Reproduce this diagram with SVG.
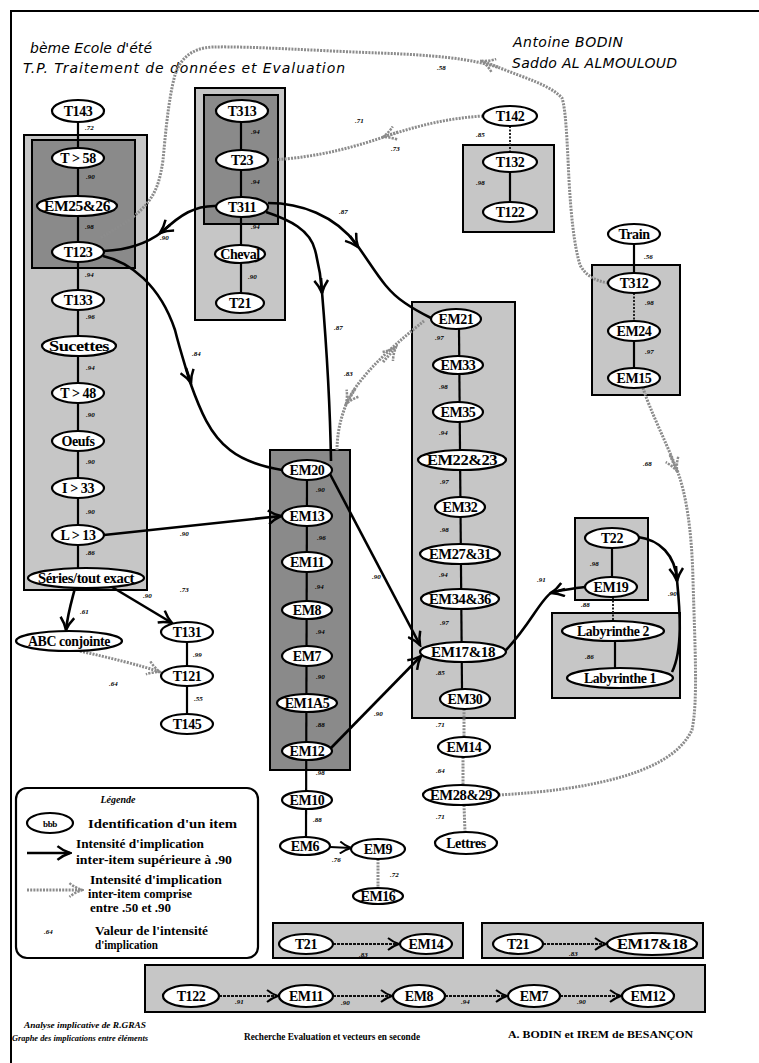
<svg xmlns="http://www.w3.org/2000/svg" width="759" height="1063" viewBox="0 0 759 1063">
<style>
.lt{fill:#c6c6c6;stroke:#000;stroke-width:2}
.dk{fill:#8a8a8a;stroke:#000;stroke-width:2}
.nd ellipse{fill:#fff;stroke:#000;stroke-width:2.2}
.nd text{font-family:"Liberation Serif","Times New Roman",serif;font-weight:bold;font-size:14px;text-anchor:middle;letter-spacing:-0.4px}
.c{fill:none;stroke:#000;stroke-width:2.6}
.v{fill:none;stroke:#000;stroke-width:2.2}
.vd{fill:none;stroke:#222;stroke-width:2;stroke-dasharray:2 1.5}
.g{fill:none;stroke:#8c8c8c;stroke-width:3;stroke-dasharray:2 1.2}
.bd{fill:none;stroke:#111;stroke-width:2;stroke-dasharray:3 1}
.lb{font-family:"Liberation Serif","Times New Roman",serif;font-style:italic;font-weight:bold;font-size:7px;fill:#000}
.tt{font-family:"DejaVu Sans",sans-serif;font-style:italic;font-size:14px;fill:#000}
.lg{font-family:"Liberation Serif","Times New Roman",serif;font-weight:bold;font-size:13px;fill:#000}
.ft{font-family:"Liberation Serif","Times New Roman",serif;font-weight:bold;font-style:italic;font-size:9px;fill:#000}
.fb{font-family:"Liberation Serif","Times New Roman",serif;font-weight:bold;font-size:10px;fill:#000}
</style>
<defs>
<marker id="ah" viewBox="0 0 14 14" refX="12" refY="7" markerWidth="16" markerHeight="16" markerUnits="userSpaceOnUse" orient="auto"><path d="M1,1 Q6,5 12,7 Q6,9 1,13" fill="none" stroke="#000" stroke-width="2.2"/></marker>
<marker id="ahg" viewBox="0 0 14 14" refX="12" refY="7" markerWidth="16" markerHeight="16" markerUnits="userSpaceOnUse" orient="auto"><path d="M1,1 Q6,5 12,7 Q6,9 1,13" fill="none" stroke="#8c8c8c" stroke-width="2.2" stroke-dasharray="2 1"/></marker>
<marker id="ahs" viewBox="0 0 14 14" refX="12" refY="7" markerWidth="14" markerHeight="14" markerUnits="userSpaceOnUse" orient="auto"><path d="M1,1 Q6,5 12,7 Q6,9 1,13" fill="none" stroke="#000" stroke-width="2"/></marker>
</defs>
<rect x="0" y="0" width="759" height="1063" fill="#fff"/>
<g id="frame"><path d="M11,1063 L11,11 L759,11" fill="none" stroke="#000" stroke-width="2"/></g>
<g id="titles">
<text class="tt" x="30" y="53" textLength="122" lengthAdjust="spacing">bème Ecole d'été</text>
<text class="tt" x="23" y="73" textLength="322" lengthAdjust="spacing">T.P. Traitement de données et Evaluation</text>
<text class="tt" x="513" y="47" textLength="110" lengthAdjust="spacing">Antoine BODIN</text>
<text class="tt" x="512" y="68" textLength="165" lengthAdjust="spacing">Saddo AL ALMOULOUD</text>
</g>
<g id="clusters">
<rect class="lt" x="24" y="135" width="123" height="455"/>
<rect class="dk" x="32" y="140" width="103" height="128"/>
<rect class="lt" x="195" y="88" width="90" height="232"/>
<rect class="dk" x="204" y="95" width="74" height="129"/>
<rect class="lt" x="463" y="145" width="91" height="87"/>
<rect class="lt" x="592" y="265" width="88" height="130"/>
<rect class="lt" x="412" y="302" width="103" height="416"/>
<rect class="dk" x="270" y="450" width="80" height="320"/>
<rect class="lt" x="575" y="518" width="73" height="82"/>
<rect class="lt" x="552" y="613" width="128" height="85"/>
<rect class="lt" x="273" y="923" width="190" height="35"/>
<rect class="lt" x="482" y="923" width="221" height="35"/>
<rect class="lt" x="145" y="965" width="560" height="47"/>
</g>
<g id="legend">
<rect x="16" y="788" width="242" height="170" rx="11" fill="#fff" stroke="#000" stroke-width="2.2"/>
<text x="118" y="803" class="ft" style="font-size:10px" text-anchor="middle">Légende</text>
<g class="nd" id="n-legend"><ellipse cx="50" cy="823" rx="23" ry="10"/><text x="50" y="827" style="font-size:9px">bbb</text></g>
<text class="lg" x="88" y="828" textLength="149" lengthAdjust="spacingAndGlyphs">Identification d'un item</text>
<path class="c" d="M27,853 L70,853" marker-end="url(#ah)"/>
<text class="lg" x="76" y="848" textLength="128" lengthAdjust="spacingAndGlyphs">Intensité d'implication</text>
<text class="lg" x="76" y="864" textLength="156" lengthAdjust="spacingAndGlyphs">inter-item supérieure à .90</text>
<path class="g" d="M27,890 L82,890" marker-end="url(#ahg)"/>
<text class="lg" x="90" y="884" textLength="132" lengthAdjust="spacingAndGlyphs">Intensité d'implication</text>
<text class="lg" x="88" y="898" textLength="104" lengthAdjust="spacingAndGlyphs">inter-item comprise</text>
<text class="lg" x="90" y="912" textLength="81" lengthAdjust="spacingAndGlyphs">entre .50 et .90</text>
<text class="lb" x="44" y="934">.64</text>
<text class="lg" x="95" y="935" textLength="113" lengthAdjust="spacingAndGlyphs">Valeur de l'intensité</text>
<text class="lg" x="95" y="949" textLength="63" lengthAdjust="spacingAndGlyphs">d'implication</text>
</g>
<g id="connectors">
<line class="v" x1="78" y1="122" x2="78" y2="568"/>
<line class="v" x1="241" y1="122" x2="241" y2="293"/>
<line class="vd" x1="510" y1="126" x2="510" y2="152"/>
<line class="v" x1="510" y1="172" x2="510" y2="202"/>
<line class="v" x1="634" y1="244" x2="634" y2="273"/>
<line class="vd" x1="634" y1="293" x2="634" y2="321"/>
<line class="v" x1="634" y1="341" x2="634" y2="368"/>
<line class="v" x1="459" y1="329" x2="462" y2="689"/>
<line class="g" x1="464" y1="709" x2="464" y2="737"/>
<line class="g" x1="463" y1="757" x2="463" y2="785"/>
<line class="g" x1="464" y1="805" x2="465" y2="832"/>
<line class="v" x1="307" y1="480" x2="306" y2="837"/>
<line class="g" x1="378" y1="859" x2="378" y2="888"/>
<line class="v" x1="187" y1="642" x2="187" y2="714"/>
<line class="v" x1="612" y1="548" x2="612" y2="577"/>
<line class="vd" x1="613" y1="597" x2="613" y2="621"/>
<line class="v" x1="615" y1="641" x2="615" y2="668"/>
<path class="c" d="M217,206 C195,205 180,215 162,232 C145,245 125,250 104,251"/>
<path class="c" d="M170,225 L160,233" marker-end="url(#ah)"/>
<path class="c" d="M268,203 C300,203 335,215 357,245 C375,270 385,290 405,303 C415,310 425,315 431,318"/>
<path class="c" d="M350,236 L358,247" marker-end="url(#ah)"/>
<path class="c" d="M266,212 C290,220 310,230 315,250 C319,265 321,278 322,292 C326,340 330,400 331,461"/>
<path class="c" d="M321,278 L322,293" marker-end="url(#ah)"/>
<path class="c" d="M103,256 C130,262 160,285 175,330 C180,350 185,365 190,382 C200,410 210,435 230,450 C245,462 265,467 282,470"/>
<path class="c" d="M186,368 L191,383" marker-end="url(#ah)"/>
<path class="c" d="M104,535 L281,516" marker-end="url(#ah)"/>
<path class="c" d="M330,474 L420,645" marker-end="url(#ah)"/>
<path class="c" d="M331,748 L421,656" marker-end="url(#ah)"/>
<path class="c" d="M585,587 C575,588 565,590 552,592 C540,600 530,625 506,650"/>
<path class="c" d="M565,589 L551,593" marker-end="url(#ah)"/>
<path class="c" d="M638,537 C660,540 675,555 677,580 C680,610 683,650 672,672"/>
<path class="c" d="M676,566 L677,581" marker-end="url(#ah)"/>
<path class="c" d="M75,588 C72,600 68,612 66,630" marker-end="url(#ah)"/>
<path class="c" d="M112,587 L172,623" marker-end="url(#ah)"/>
<path class="v" d="M330,847 L351,848" marker-end="url(#ahs)"/>
<path class="g" d="M424,321 C400,340 362,372 348,400 C340,418 337,435 337,451"/>
<path class="g" d="M383,362 L396,347" marker-end="url(#ahg)"/>
<path class="g" d="M355,389 L346,404" marker-end="url(#ahg)"/>
<path class="g" d="M608,283 C596,281 586,276 580,265 C574,245 571,215 569,180 C567,140 566,110 562,98 C550,85 525,78 500,68 C470,58 430,55 380,53 C320,51 250,46 213,47 C190,48 180,60 175,75 C168,100 165,140 163,160 C158,195 150,210 100,238"/>
<path class="g" d="M498,67 L482,61" marker-end="url(#ahg)"/>
<path class="g" d="M483,116 C450,118 420,125 390,135 C360,145 320,158 268,160"/>
<path class="g" d="M398,132 L383,137" marker-end="url(#ahg)"/>
<path class="g" d="M643,388 C650,410 665,440 675,465 C688,495 692,540 693,580 C695,650 698,700 692,730 C680,755 650,770 610,780 C570,790 530,793 499,795"/>
<path class="g" d="M670,455 L677,471" marker-end="url(#ahg)"/>
<path class="g" d="M80,651 C110,658 140,665 160,672" marker-end="url(#ahg)"/>
<path class="bd" d="M333,944 L399,944" marker-end="url(#ahs)"/>
<path class="bd" d="M543,944 L606,944" marker-end="url(#ahs)"/>
<path class="bd" d="M219,996 L278,996" marker-end="url(#ahs)"/>
<path class="bd" d="M333,996 L392,996" marker-end="url(#ahs)"/>
<path class="bd" d="M445,996 L507,996" marker-end="url(#ahs)"/>
<path class="bd" d="M560,996 L621,996" marker-end="url(#ahs)"/>
</g>
<g id="nodes" class="nd">
<g id="n-T143"><ellipse cx="78" cy="111" rx="26" ry="11"/><text x="78" y="116">T143</text></g>
<g id="n-T58"><ellipse cx="78" cy="158" rx="26" ry="10"/><text x="78" y="163">T &gt; 58</text></g>
<g id="n-EM25"><ellipse cx="77" cy="206" rx="40" ry="10"/><text x="77" y="211" textLength="66" lengthAdjust="spacingAndGlyphs">EM25&amp;26</text></g>
<g id="n-T123"><ellipse cx="78" cy="252" rx="26" ry="10"/><text x="78" y="257">T123</text></g>
<g id="n-T133"><ellipse cx="78" cy="300" rx="26" ry="10"/><text x="78" y="305">T133</text></g>
<g id="n-Sucettes"><ellipse cx="79" cy="346" rx="37" ry="10"/><text x="79" y="351" textLength="60" lengthAdjust="spacingAndGlyphs">Sucettes</text></g>
<g id="n-T48"><ellipse cx="78" cy="393" rx="26" ry="10"/><text x="78" y="398">T &gt; 48</text></g>
<g id="n-Oeufs"><ellipse cx="78" cy="441" rx="26" ry="10"/><text x="78" y="446">Oeufs</text></g>
<g id="n-I33"><ellipse cx="78" cy="488" rx="26" ry="10"/><text x="78" y="493">I &gt; 33</text></g>
<g id="n-L13"><ellipse cx="78" cy="535" rx="26" ry="10"/><text x="78" y="540">L &gt; 13</text></g>
<g id="n-Series"><ellipse cx="86" cy="578" rx="58" ry="10"/><text x="86" y="583" textLength="96" lengthAdjust="spacingAndGlyphs">Séries/tout exact</text></g>
<g id="n-ABC"><ellipse cx="69" cy="641" rx="53" ry="10"/><text x="69" y="646" textLength="82" lengthAdjust="spacingAndGlyphs">ABC conjointe</text></g>
<g id="n-T131"><ellipse cx="187" cy="632" rx="26" ry="10"/><text x="187" y="637">T131</text></g>
<g id="n-T121"><ellipse cx="187" cy="676" rx="26" ry="10"/><text x="187" y="681">T121</text></g>
<g id="n-T145"><ellipse cx="187" cy="724" rx="26" ry="10"/><text x="187" y="729">T145</text></g>
<g id="n-T313"><ellipse cx="242" cy="111" rx="26" ry="11"/><text x="242" y="116">T313</text></g>
<g id="n-T23"><ellipse cx="242" cy="160" rx="26" ry="10"/><text x="242" y="165">T23</text></g>
<g id="n-T311"><ellipse cx="242" cy="207" rx="26" ry="10"/><text x="242" y="212">T311</text></g>
<g id="n-Cheval"><ellipse cx="240" cy="254" rx="25" ry="9"/><text x="240" y="259">Cheval</text></g>
<g id="n-T21"><ellipse cx="240" cy="303" rx="24" ry="10"/><text x="240" y="308">T21</text></g>
<g id="n-T142"><ellipse cx="510" cy="116" rx="27" ry="10"/><text x="510" y="121">T142</text></g>
<g id="n-T132"><ellipse cx="510" cy="162" rx="27" ry="10"/><text x="510" y="167">T132</text></g>
<g id="n-T122"><ellipse cx="510" cy="212" rx="27" ry="10"/><text x="510" y="217">T122</text></g>
<g id="n-Train"><ellipse cx="634" cy="234" rx="26" ry="10"/><text x="634" y="239">Train</text></g>
<g id="n-T312"><ellipse cx="634" cy="283" rx="26" ry="10"/><text x="634" y="288">T312</text></g>
<g id="n-EM24"><ellipse cx="634" cy="331" rx="26" ry="10"/><text x="634" y="336">EM24</text></g>
<g id="n-EM15"><ellipse cx="634" cy="378" rx="26" ry="10"/><text x="634" y="383">EM15</text></g>
<g id="n-EM21"><ellipse cx="456" cy="319" rx="25" ry="10"/><text x="456" y="324">EM21</text></g>
<g id="n-EM33"><ellipse cx="458" cy="365" rx="25" ry="9"/><text x="458" y="370">EM33</text></g>
<g id="n-EM35"><ellipse cx="458" cy="412" rx="25" ry="10"/><text x="458" y="417">EM35</text></g>
<g id="n-EM22"><ellipse cx="462" cy="460" rx="44" ry="10"/><text x="462" y="465" textLength="70" lengthAdjust="spacingAndGlyphs">EM22&amp;23</text></g>
<g id="n-EM32"><ellipse cx="460" cy="507" rx="25" ry="10"/><text x="460" y="512">EM32</text></g>
<g id="n-EM27"><ellipse cx="460" cy="554" rx="40" ry="10"/><text x="460" y="559" textLength="62" lengthAdjust="spacingAndGlyphs">EM27&amp;31</text></g>
<g id="n-EM34"><ellipse cx="460" cy="599" rx="39" ry="10"/><text x="460" y="604" textLength="62" lengthAdjust="spacingAndGlyphs">EM34&amp;36</text></g>
<g id="n-EM17"><ellipse cx="463" cy="652" rx="43" ry="10"/><text x="463" y="657" textLength="64" lengthAdjust="spacingAndGlyphs">EM17&amp;18</text></g>
<g id="n-EM30"><ellipse cx="465" cy="699" rx="25" ry="10"/><text x="465" y="704">EM30</text></g>
<g id="n-EM14"><ellipse cx="464" cy="747" rx="26" ry="10"/><text x="464" y="752">EM14</text></g>
<g id="n-EM28"><ellipse cx="461" cy="795" rx="38" ry="10"/><text x="461" y="800" textLength="62" lengthAdjust="spacingAndGlyphs">EM28&amp;29</text></g>
<g id="n-Lettres"><ellipse cx="466" cy="843" rx="31" ry="11"/><text x="466" y="848">Lettres</text></g>
<g id="n-EM20"><ellipse cx="307" cy="470" rx="25" ry="10"/><text x="307" y="475">EM20</text></g>
<g id="n-EM13"><ellipse cx="307" cy="516" rx="25" ry="10"/><text x="307" y="521">EM13</text></g>
<g id="n-EM11"><ellipse cx="307" cy="562" rx="25" ry="10"/><text x="307" y="567">EM11</text></g>
<g id="n-EM8"><ellipse cx="307" cy="610" rx="25" ry="9"/><text x="307" y="615">EM8</text></g>
<g id="n-EM7"><ellipse cx="307" cy="656" rx="25" ry="10"/><text x="307" y="661">EM7</text></g>
<g id="n-EM1A5"><ellipse cx="307" cy="703" rx="30" ry="9"/><text x="307" y="708">EM1A5</text></g>
<g id="n-EM12"><ellipse cx="307" cy="751" rx="25" ry="9"/><text x="307" y="756">EM12</text></g>
<g id="n-EM10"><ellipse cx="307" cy="800" rx="25" ry="9"/><text x="307" y="805">EM10</text></g>
<g id="n-EM6"><ellipse cx="305" cy="846" rx="25" ry="9"/><text x="305" y="851">EM6</text></g>
<g id="n-EM9"><ellipse cx="378" cy="849" rx="27" ry="10"/><text x="378" y="854">EM9</text></g>
<g id="n-EM16"><ellipse cx="378" cy="896" rx="25" ry="8"/><text x="378" y="901">EM16</text></g>
<g id="n-T22"><ellipse cx="612" cy="538" rx="27" ry="10"/><text x="612" y="543">T22</text></g>
<g id="n-EM19"><ellipse cx="611" cy="587" rx="26" ry="10"/><text x="611" y="592">EM19</text></g>
<g id="n-Lab2"><ellipse cx="613" cy="631" rx="51" ry="10"/><text x="613" y="636" textLength="72" lengthAdjust="spacingAndGlyphs">Labyrinthe 2</text></g>
<g id="n-Lab1"><ellipse cx="620" cy="678" rx="53" ry="10"/><text x="620" y="683" textLength="72" lengthAdjust="spacingAndGlyphs">Labyrinthe 1</text></g>
<g id="n-bT21a"><ellipse cx="306" cy="944" rx="27" ry="10"/><text x="306" y="949">T21</text></g>
<g id="n-bEM14"><ellipse cx="426" cy="944" rx="26" ry="10"/><text x="426" y="949">EM14</text></g>
<g id="n-bT21b"><ellipse cx="518" cy="944" rx="25" ry="10"/><text x="518" y="949">T21</text></g>
<g id="n-bEM17"><ellipse cx="652" cy="944" rx="45" ry="11"/><text x="652" y="949" textLength="70" lengthAdjust="spacingAndGlyphs">EM17&amp;18</text></g>
<g id="n-bT122"><ellipse cx="191" cy="996" rx="28" ry="11"/><text x="191" y="1001">T122</text></g>
<g id="n-bEM11"><ellipse cx="306" cy="996" rx="27" ry="11"/><text x="306" y="1001">EM11</text></g>
<g id="n-bEM8"><ellipse cx="419" cy="996" rx="26" ry="11"/><text x="419" y="1001">EM8</text></g>
<g id="n-bEM7"><ellipse cx="534" cy="996" rx="26" ry="11"/><text x="534" y="1001">EM7</text></g>
<g id="n-bEM12"><ellipse cx="648" cy="996" rx="26" ry="11"/><text x="648" y="1001">EM12</text></g>
</g>
<g id="values">
<text class="lb" x="85" y="130">.72</text>
<text class="lb" x="86" y="179">.90</text>
<text class="lb" x="85" y="229">.98</text>
<text class="lb" x="85" y="277">.94</text>
<text class="lb" x="86" y="319">.96</text>
<text class="lb" x="86" y="370">.94</text>
<text class="lb" x="86" y="417">.90</text>
<text class="lb" x="86" y="464">.90</text>
<text class="lb" x="86" y="514">.90</text>
<text class="lb" x="86" y="555">.86</text>
<text class="lb" x="251" y="134">.94</text>
<text class="lb" x="251" y="184">.94</text>
<text class="lb" x="251" y="229">.94</text>
<text class="lb" x="248" y="279">.90</text>
<text class="lb" x="476" y="137">.85</text>
<text class="lb" x="476" y="185">.98</text>
<text class="lb" x="644" y="259">.56</text>
<text class="lb" x="645" y="305">.98</text>
<text class="lb" x="645" y="354">.97</text>
<text class="lb" x="435" y="340">.97</text>
<text class="lb" x="439" y="389">.98</text>
<text class="lb" x="439" y="435">.94</text>
<text class="lb" x="440" y="484">.97</text>
<text class="lb" x="440" y="532">.98</text>
<text class="lb" x="439" y="577">.94</text>
<text class="lb" x="440" y="625">.97</text>
<text class="lb" x="436" y="675">.85</text>
<text class="lb" x="436" y="727">.71</text>
<text class="lb" x="436" y="773">.64</text>
<text class="lb" x="436" y="819">.71</text>
<text class="lb" x="316" y="492">.90</text>
<text class="lb" x="317" y="540">.96</text>
<text class="lb" x="315" y="589">.94</text>
<text class="lb" x="316" y="634">.94</text>
<text class="lb" x="316" y="679">.90</text>
<text class="lb" x="316" y="727">.88</text>
<text class="lb" x="316" y="775">.98</text>
<text class="lb" x="313" y="822">.88</text>
<text class="lb" x="160" y="240">.90</text>
<text class="lb" x="339" y="214">.87</text>
<text class="lb" x="334" y="330">.87</text>
<text class="lb" x="344" y="376">.83</text>
<text class="lb" x="192" y="356">.84</text>
<text class="lb" x="180" y="536">.90</text>
<text class="lb" x="372" y="579">.90</text>
<text class="lb" x="374" y="716">.90</text>
<text class="lb" x="537" y="582">.91</text>
<text class="lb" x="668" y="596">.90</text>
<text class="lb" x="437" y="70">.58</text>
<text class="lb" x="355" y="123">.71</text>
<text class="lb" x="391" y="151">.73</text>
<text class="lb" x="643" y="466">.68</text>
<text class="lb" x="80" y="614">.61</text>
<text class="lb" x="143" y="598">.90</text>
<text class="lb" x="180" y="592">.73</text>
<text class="lb" x="193" y="657">.99</text>
<text class="lb" x="194" y="701">.55</text>
<text class="lb" x="109" y="686">.64</text>
<text class="lb" x="332" y="862">.76</text>
<text class="lb" x="390" y="877">.72</text>
<text class="lb" x="590" y="566">.98</text>
<text class="lb" x="581" y="607">.88</text>
<text class="lb" x="585" y="659">.86</text>
<text class="lb" x="359" y="957">.83</text>
<text class="lb" x="569" y="956">.83</text>
<text class="lb" x="235" y="1004">.91</text>
<text class="lb" x="341" y="1005">.90</text>
<text class="lb" x="461" y="1004">.94</text>
<text class="lb" x="577" y="1004">.90</text>
</g>
<g id="footer">
<text class="ft" x="24" y="1028" textLength="122" lengthAdjust="spacingAndGlyphs">Analyse implicative de R.GRAS</text>
<text class="ft" x="12" y="1041" textLength="136" lengthAdjust="spacingAndGlyphs">Graphe des implications entre éléments</text>
<text class="fb" x="244" y="1040" textLength="176" lengthAdjust="spacingAndGlyphs">Recherche Evaluation et vecteurs en seconde</text>
<text class="fb" x="508" y="1038" textLength="185" lengthAdjust="spacingAndGlyphs">A. BODIN et IREM de BESANÇON</text>
</g>
</svg>
